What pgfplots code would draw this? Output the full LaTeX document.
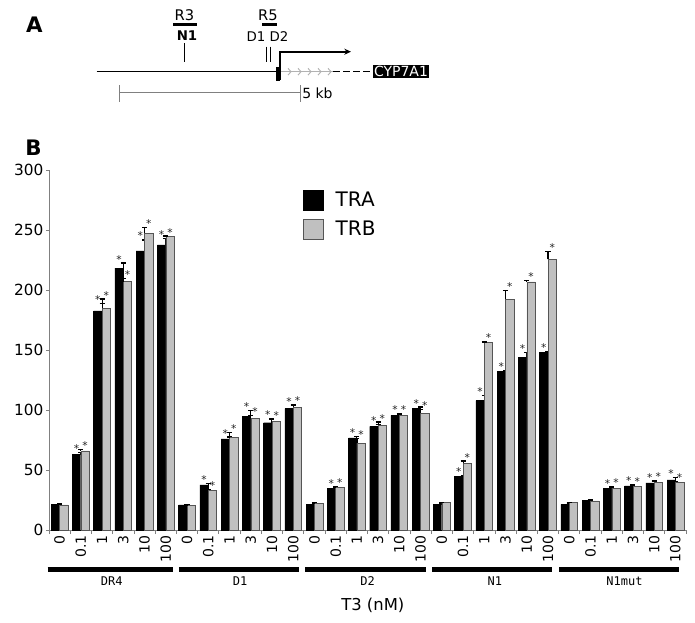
\documentclass[border=0pt]{standalone}
\usepackage{fontspec}
\setmainfont{DejaVu Sans}
\setmonofont{DejaVu Sans Mono}
\usepackage{pgfplots}
\usepackage{pgfplotstable}
\pgfplotsset{compat=1.18}
\usetikzlibrary{arrows.meta}
\definecolor{trb}{RGB}{192,192,192}
\definecolor{trbedge}{RGB}{85,85,85}
\definecolor{axgray}{RGB}{128,128,128}
\pgfplotsset{legend image code/.code={\draw[#1] (0pt,-7.5pt) rectangle (15pt,7.5pt);}}

\pgfplotstableread{
x a ae as b be bs
0 21.3 0.5 0 21.0 0.5 0
1 63.3 1.0 1 66.0 0.8 1
2 182.7 6.3 1 184.7 7.8 1
3 218.3 4.2 1 207.0 2.7 1
4 232.7 9.0 1 247.5 4.7 1
5 237.7 5.6 1 244.4 0.6 1
6 21.0 0.4 0 20.7 0.4 0
7 37.7 0.8 1 33.3 0.5 1
8 76.0 1.5 1 77.0 4.3 1
9 95.0 4.7 1 93.0 2.5 1
10 89.4 3.6 1 90.8 1.7 1
11 101.1 2.5 1 102.5 1.9 1
12 21.4 0.4 0 22.5 0.4 0
13 34.5 1.2 1 35.6 0.5 1
14 76.7 1.1 1 72.5 3.9 1
15 86.4 1.4 1 87.2 2.8 1
16 95.6 1.6 1 95.8 0.9 1
17 101.1 1.4 1 97.2 3.1 1
18 21.4 0.4 0 22.8 0.4 0
19 45.0 0.6 1 55.6 1.9 1
20 107.8 4.5 1 156.1 0.6 1
21 132.3 0.7 1 192.5 7.2 1
22 143.6 4.2 1 206.7 1.6 1
23 148.1 0.5 1 225.6 6.4 1
24 21.4 0.4 0 22.8 0.4 0
25 24.7 0.8 0 24.2 0.8 0
26 34.5 0.8 1 35.0 1.1 1
27 36.7 1.3 1 36.1 1.4 1
28 39.2 1.1 1 39.7 1.7 1
29 41.7 2.3 1 40.0 0.8 1
}\data

\begin{document}
\begin{tikzpicture}
\path[use as bounding box] (0,0) rectangle (521.25pt,-466.5pt);
\begin{scope}[x=0.75pt,y=-0.75pt]
 % panel A
 \node[font=\bfseries\fontsize{16}{16}\selectfont, inner sep=0pt] at (34.5,24.5) {A};
 \node[font=\bfseries\fontsize{16}{16}\selectfont, inner sep=0pt] at (33.5,148) {B};
 \draw[line width=0.9pt] (96.7,71.7) -- (277,71.7);
 \draw[line width=0.6pt, black!30] (281,71.7) -- (333,71.7);
 \foreach \cx in {291,301,311,321,331}
   \draw[black!30, line width=0.7pt] (\cx-3,68.3) -- (\cx,71.7) -- (\cx-3,75.1);
 \draw[line width=0.9pt, dash pattern=on 5pt off 2.5pt] (333,71.7) -- (371,71.7);
 \node[fill=black, text=white, inner sep=0.8pt, minimum height=9.75pt, font=\fontsize{10.5}{11}\selectfont] at (401,71.5) {CYP7A1};
 \draw[line width=2.6pt] (278,66.5) -- (278,80.5);
 \draw[line width=1.5pt, -{Stealth[length=5pt,width=4.5pt]}] (279.5,80) -- (279.5,51.7) -- (351,51.7);
 \draw[line width=0.8pt] (184.3,43.3) -- (184.3,61.7);
 \draw[line width=0.7pt] (266.7,46.7) -- (266.7,61.7);
 \draw[line width=0.7pt] (270.7,46.7) -- (270.7,61.7);
 \node[font=\bfseries\fontsize{10}{10}\selectfont, inner sep=0pt] at (187,35.5) {N1};
 \node[font=\fontsize{10}{10}\selectfont, inner sep=0pt] at (267.5,36.5) {D1 D2};
 \node[font=\fontsize{11}{11}\selectfont, inner sep=0pt] at (184.5,15) {R3};
 \node[font=\fontsize{11}{11}\selectfont, inner sep=0pt] at (268,15) {R5};
 \draw[line width=2.6pt] (173,24.3) -- (197,24.3);
 \draw[line width=2.6pt] (262,24.3) -- (277,24.3);
 \draw[axgray, line width=0.8pt] (119.3,92.7) -- (300.7,92.7);
 \draw[axgray, line width=0.8pt] (119.3,85) -- (119.3,101.7);
 \draw[axgray, line width=0.8pt] (300.7,85) -- (300.7,101.7);
 \node[anchor=west, font=\fontsize{10.5}{11}\selectfont, inner sep=0pt] at (302,93.5) {5 kb};
\end{scope}
\begin{axis}[
  at={(36.75pt,-397.5pt)}, anchor=south west,
  scale only axis, width=477.75pt, height=270pt,
  xmin=-0.5, xmax=29.5, ymin=0, ymax=300,
  clip=false,
  axis x line*=bottom, axis y line*=left,
  axis line style={axgray, line width=0.6pt},
  ytick={0,50,...,300},
  xtick={0,...,29},
  xticklabels={0,0.1,1,3,10,100,0,0.1,1,3,10,100,0,0.1,1,3,10,100,0,0.1,1,3,10,100,0,0.1,1,3,10,100},
  minor xtick={-0.5,0.5,...,29.5},
  major x tick style={draw=none},
  minor x tick style={axgray, line width=0.6pt},
  minor tick length=3pt,
  major tick length=2pt,
  ytick style={axgray, line width=0.6pt},
  tick align=outside,
  /pgf/number format/assume math mode=true,
  yticklabel style={font=\fontsize{11.5}{12}\selectfont, inner sep=2pt},
  xticklabel style={font=\fontsize{10.5}{11}\selectfont, rotate=90, anchor=east, inner sep=2pt},
  legend style={at={(axis description cs:0.398,0.946)}, anchor=north west, draw=none, fill=none,
    inner sep=0pt, outer sep=0pt, row sep=5pt,
    font=\fontsize{15}{15}\selectfont,
    /tikz/every odd column/.append style={column sep=7.5pt}},
  legend cell align=left,
]
\addlegendimage{draw=black, fill=black}
\addlegendentry{TRA}
\addlegendimage{draw=trbedge, fill=trb}
\addlegendentry{TRB}

\addplot[forget plot, ybar, bar width=0.39, bar shift=-0.2, fill=black, draw=black, line width=0.3pt,
  error bars/.cd, y dir=plus, y explicit,
  error bar style={black, line width=0.8pt},
  error mark options={rotate=90, black, mark size=1.9pt, line width=0.8pt}]
  table[x=x, y=a, y error=ae] {\data};
\addplot[forget plot, ybar, bar width=0.39, bar shift=0.2, fill=trb, draw=trbedge, line width=0.4pt,
  error bars/.cd, y dir=plus, y explicit,
  error bar style={black, line width=0.8pt},
  error mark options={rotate=90, black, mark size=1.9pt, line width=0.8pt}]
  table[x=x, y=b, y error=be] {\data};

\addplot[forget plot, only marks, mark=none, restrict expr to domain={\thisrow{as}}{0.5:1.5},
  nodes near coords={*},
  every node near coord/.style={anchor=base, yshift=0pt, inner sep=0pt, font=\fontsize{8}{8}\selectfont, text=black!85}]
  table[x expr=\thisrow{x}-0.2, y expr=\thisrow{a}+\thisrow{ae}] {\data};
\addplot[forget plot, only marks, mark=none, restrict expr to domain={\thisrow{bs}}{0.5:1.5},
  nodes near coords={*},
  every node near coord/.style={anchor=base, yshift=0pt, inner sep=0pt, font=\fontsize{8}{8}\selectfont, text=black!85}]
  table[x expr=\thisrow{x}+0.2, y expr=\thisrow{b}+\thisrow{be}] {\data};

% group bars
\draw[line width=4.2pt] (axis cs:-0.56,-33) -- (axis cs:5.33,-33);
\draw[line width=4.2pt] (axis cs:5.62,-33) -- (axis cs:11.28,-33);
\draw[line width=4.2pt] (axis cs:11.56,-33) -- (axis cs:17.26,-33);
\draw[line width=4.2pt] (axis cs:17.54,-33) -- (axis cs:23.2,-33);
\draw[line width=4.2pt] (axis cs:23.52,-33) -- (axis cs:29.16,-33);
\node[font=\ttfamily\fontsize{9}{9}\selectfont] at (axis cs:2.45,-42.3) {DR4};
\node[font=\ttfamily\fontsize{9}{9}\selectfont] at (axis cs:8.5,-42.3) {D1};
\node[font=\ttfamily\fontsize{9}{9}\selectfont] at (axis cs:14.5,-42.3) {D2};
\node[font=\ttfamily\fontsize{9}{9}\selectfont] at (axis cs:20.5,-42.3) {N1};
\node[font=\ttfamily\fontsize{9}{9}\selectfont] at (axis cs:26.6,-42.3) {N1mut};
\node[font=\fontsize{12.3}{13}\selectfont] at (axis cs:14.75,-62.5) {T3 (nM)};
\end{axis}
\end{tikzpicture}
\end{document}
